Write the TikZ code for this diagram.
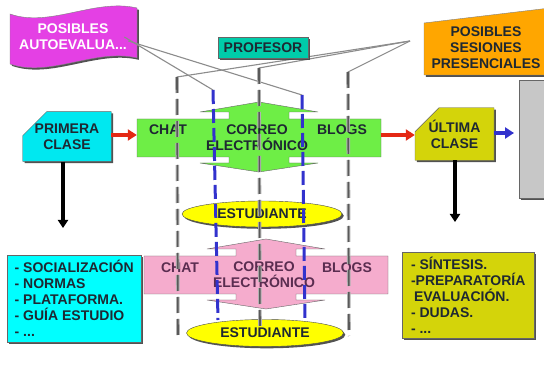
\documentclass[tikz,border=0pt]{standalone}
\usepackage{fontspec}
\setmainfont{Liberation Sans}
\usepackage{tikz}
\usetikzlibrary{arrows.meta,positioning,calc,shapes.geometric,shapes.misc,shadows}

\definecolor{magenta1}{RGB}{228,64,228}
\definecolor{teal1}{RGB}{0,204,170}
\definecolor{naranja}{RGB}{255,166,0}
\definecolor{cian}{RGB}{0,232,240}
\definecolor{cian2}{RGB}{0,255,255}
\definecolor{verde}{RGB}{110,238,70}
\definecolor{oliva}{RGB}{212,212,10}
\definecolor{rosa}{RGB}{245,172,205}
\definecolor{amarillo}{RGB}{255,255,0}
\definecolor{tinta}{RGB}{30,40,50}
\definecolor{morado}{RGB}{90,45,80}
\definecolor{azul}{RGB}{50,50,205}
\definecolor{rojo}{RGB}{228,40,20}

\newcommand{\letra}{\bfseries\fontsize{14}{16}\selectfont}

\tikzset{
  sombra/.style={drop shadow={shadow xshift=1.8pt, shadow yshift=-1.8pt, fill=black!75, opacity=.9}},
  caja/.style={draw=black!60, thin, sombra, text=tinta, align=center, inner sep=0pt},
  clase/.style={caja, chamfered rectangle, chamfered rectangle corners=north west,
                chamfered rectangle xsep=12pt, chamfered rectangle ysep=12pt},
  lista/.style={caja, rectangle, anchor=north west, align=left, inner xsep=6pt,
                inner ysep=5pt, text depth=0pt},
  estud/.style={caja, ellipse, fill=amarillo, draw=black!70},
  barra/.style={rectangle, inner sep=0pt, minimum width=244pt, minimum height=38pt},
  hilo/.style={draw=black!45, line width=1.1pt},
  guia/.style={draw=black!30, line width=3.6pt, dash pattern=on 16pt off 6pt,
               postaction={draw=black!65, line width=1.6pt, dash pattern=on 16pt off 6pt}},
  guiaazul/.style={draw=azul, line width=3pt, dash pattern=on 14pt off 5pt},
  flecha/.style={-{Triangle[length=9pt,width=11pt]}, line width=3.5pt},
  bajada/.style={-{Triangle[length=8pt,width=10pt]}, line width=4pt, draw=black},
  canales/.pic={
    \path[pic actions] (-122,-19) -- (-30,-19) -- (-30,-26) -- (-59,-26) -- (0,-36)
      -- (59,-26) -- (30,-26) -- (30,-19) -- (122,-19) -- (122,19) -- (30,19)
      -- (30,25) -- (59,25) -- (0,34) -- (-59,25) -- (-30,25) -- (-30,19)
      -- (-122,19) -- cycle;
  }
}

\begin{document}
\begin{tikzpicture}[x=1pt, y=-1pt, every node/.style={font=\letra}]
\useasboundingbox[fill=white] (0,0) rectangle (544,382);

% cabecera
\path[fill=magenta1, draw=black!50, sombra] (10,14) .. controls (50,28) and (95,-2) .. (137,8)
  -- (137,58) .. controls (95,48) and (50,78) .. (10,64) -- cycle;
\node[text=white, align=center] (autoeval) at (73,37) {POSIBLES\\AUTOEVALUA...};

\path[fill=naranja, draw=black!50, sombra] (424,23) -- (550,8) -- (550,75) -- (424,75) -- cycle;
\node[text=tinta, align=center] (sesiones) at (486,48) {POSIBLES\\SESIONES\\PRESENCIALES};
\coordinate (hub) at (410,41);

% guias
\foreach \n/\xa/\ya/\xb/\yb in {1/177/77/178/338, 2/259/68/260/330, 3/348/72/349/336} {
  \coordinate (g\n a) at (\xa,\ya);
  \coordinate (g\n b) at (\xb,\yb);
}
\coordinate (b1a) at (213,90);
\coordinate (b1b) at (218,320);
\coordinate (b2a) at (302,95);
\coordinate (b2b) at (305,320);

\draw[hilo] (hub) -- (g1a);
\draw[hilo] (hub) -- (g2a);
\draw[hilo] (hub) -- (g3a);
\draw[hilo] (autoeval.east) ++(-6,0) -- (b1a);
\draw[hilo] (autoeval.east) ++(-2,4) -- (b2a);

\node[caja, fill=teal1, minimum width=90pt, minimum height=21pt] (profesor) at (263,47.5) {PROFESOR};

% clases
\node[clase, fill=cian, minimum width=80pt, minimum height=47pt] (primera) at (67,136.5) {PRIMERA\\CLASE};
\node[clase, fill=oliva, minimum width=79pt, minimum height=46pt] (ultima) at (454.5,134) {ÚLTIMA\\CLASE};
\path[fill=black!22, draw=black!60, sombra] (519,80) rectangle (550,198);

% canales
\pic[fill=verde, draw=black!60, sombra] at (259,138) {canales};
\node[barra] (canalesA) at (259,138) {};
\node[text=tinta] at (168,130) {CHAT};
\node[text=tinta, align=center] at (257,138) {CORREO\\ELECTRÓNICO};
\node[text=tinta] at (342,130) {BLOGS};

\pic[fill=rosa, draw=black!60, sombra] at (266,275) {canales};
\node[barra] (canalesB) at (266,275) {};
\node[text=morado] at (180,268) {CHAT};
\node[text=morado, align=center] at (264,275) {CORREO\\ELECTRÓNICO};
\node[text=morado] at (347,268) {BLOGS};

\node[estud, minimum width=160pt, minimum height=26pt] (estud1) at (262,214) {ESTUDIANTE};
\node[estud, minimum width=157pt, minimum height=27pt] (estud2) at (265,333) {ESTUDIANTE};

% listas
\node[lista, fill=cian2, minimum width=134pt, minimum height=87pt] (listaini) at (7,255)
  {- SOCIALIZACIÓN\\- NORMAS\\- PLATAFORMA.\\- GUÍA ESTUDIO\\- ...};
\node[lista, fill=oliva, minimum width=132pt, minimum height=86pt] (listafin) at (402,252)
  {- SÍNTESIS.\\-PREPARATORÍA\\\hspace*{3pt}EVALUACIÓN.\\- DUDAS.\\- ...};

% lineas discontinuas
\draw[guia] (g1a) -- (g1b);
\draw[guia] (g2a) -- (g2b);
\draw[guia] (g3a) -- (g3b);
\draw[guiaazul] (b1a) -- (b1b);
\draw[guiaazul] (b2a) -- (b2b);

% flechas
\coordinate (finA) at (63,228);
\coordinate (finB) at (455,222);
\coordinate (finC) at (514,133);
\draw[flecha, draw=rojo] (primera.east |- 0,135) -- (canalesA.west |- 0,135);
\draw[flecha, draw=rojo] (canalesA.east |- 0,135) -- (ultima.west |- 0,135);
\draw[flecha, draw=azul] (ultima.east |- finC) -- (finC);
\draw[bajada] (primera.south -| finA) -- (finA);
\draw[bajada] (ultima.south -| finB) -- (finB);
\end{tikzpicture}
\end{document}
